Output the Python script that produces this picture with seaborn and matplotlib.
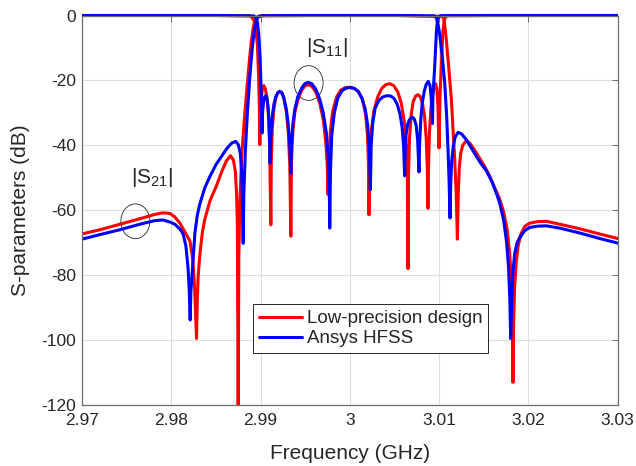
import matplotlib
matplotlib.use("Agg")
import matplotlib.pyplot as plt
import seaborn as sns
import pandas as pd
from matplotlib.patches import Ellipse
from matplotlib.transforms import Bbox, TransformedBbox

# ---------------- data (frequency GHz, dB) ----------------
red_s21 = [
    (2.970, -67.3), (2.97202, -66.0), (2.97426, -64.3), (2.97650, -62.6), (2.97813, -61.3),
    (2.97905, -60.8), (2.97986, -61.0), (2.98037, -62.0), (2.98098, -64.0), (2.98149, -66.5),
    (2.98210, -69.5), (2.98241, -75.0), (2.98262, -84.0), (2.98283, -99.5), (2.98292, -88.0),
    (2.98302, -80.0), (2.98323, -73.0), (2.98348, -67.0), (2.98374, -63.0), (2.98435, -57.0),
    (2.98506, -52.5), (2.98567, -48.0), (2.98618, -44.8), (2.98664, -43.2), (2.98696, -44.5),
    (2.98718, -48.0), (2.98732, -55.0), (2.98741, -65.0), (2.98750, -125.0), (2.98757, -75.0),
    (2.98768, -58.0), (2.98790, -43.0), (2.98819, -32.0), (2.98846, -23.0), (2.98875, -14.0),
    (2.98897, -8.0), (2.98920, -3.5), (2.98942, -1.2), (2.98970, -0.3), (2.99015, -0.05),
    (2.99535, 0.0), (3.00045, 0.0), (3.00554, 0.0), (3.01044, -0.3), (3.01058, -1.5),
    (3.01082, -7.4), (3.01109, -16.0), (3.01139, -26.0), (3.01176, -44.4), (3.01193, -55.0),
    (3.01206, -68.9), (3.01216, -55.0), (3.01227, -47.0), (3.01243, -42.5), (3.01266, -40.0),
    (3.01306, -38.5), (3.01344, -39.3), (3.01400, -41.5), (3.01456, -44.0), (3.01512, -46.5),
    (3.01568, -49.5), (3.01623, -53.0), (3.01679, -56.5), (3.01724, -60.5), (3.01764, -66.0),
    (3.01791, -73.0), (3.01812, -82.0), (3.01823, -95.0), (3.01829, -113.0), (3.01836, -95.0),
    (3.01847, -84.0), (3.01865, -76.0), (3.01887, -71.0), (3.01915, -67.5), (3.01960, -65.0),
    (3.02015, -64.0), (3.02105, -63.5), (3.02203, -63.4), (3.02352, -64.3), (3.02576, -65.7),
    (3.02799, -67.3), (3.0300, -68.7),
]

red_s11 = [
    (2.970, 0.0), (2.98516, 0.0), (2.98880, -0.1), (2.98902, -0.5), (2.98925, -1.5),
    (2.98947, -4.0), (2.98965, -9.0), (2.98978, -18.0), (2.98987, -28.0), (2.98992, -39.8),
    (2.98998, -30.0), (2.99009, -25.0), (2.99021, -22.8), (2.99037, -21.6), (2.99053, -22.5),
    (2.99071, -25.0), (2.99087, -30.0), (2.99102, -40.0), (2.99116, -64.5),
    (2.99121, -45.0), (2.99132, -35.0), (2.99149, -29.0), (2.99172, -25.3), (2.99194, -23.8),
    (2.99216, -23.3), (2.99239, -23.8), (2.99261, -25.5), (2.99289, -29.5), (2.99311, -36.0),
    (2.99328, -46.0), (2.99340, -68.0),
    (2.99347, -45.0), (2.99362, -36.0), (2.99384, -30.0), (2.99418, -26.0), (2.99463, -23.0),
    (2.99497, -21.7), (2.99533, -21.3), (2.99574, -21.8), (2.99619, -23.5), (2.99664, -27.0),
    (2.99703, -32.0), (2.99731, -39.0), (2.99748, -46.0), (2.99757, -55.2),
    (2.99764, -45.0), (2.99782, -36.0), (2.99809, -29.5), (2.99854, -25.0), (2.99899, -23.0),
    (2.99944, -22.3), (3.00000, -22.1), (3.00055, -22.5), (3.00100, -23.5), (3.00145, -26.0),
    (3.00178, -30.5), (3.00199, -37.0), (3.00209, -45.0), (3.00216, -61.4),
    (3.00224, -45.0), (3.00240, -36.0), (3.00269, -29.5), (3.00314, -25.0), (3.00359, -22.5),
    (3.00403, -21.3), (3.00448, -21.0), (3.00493, -21.6), (3.00538, -23.5), (3.00577, -27.0),
    (3.00610, -32.5), (3.00633, -40.0), (3.00645, -50.0), (3.00653, -78.0),
    (3.00658, -50.0), (3.00669, -38.0), (3.00689, -30.5), (3.00711, -26.5), (3.00739, -24.8),
    (3.00765, -24.4), (3.00790, -25.0), (3.00814, -27.0), (3.00838, -31.0), (3.00857, -38.0),
    (3.00869, -47.0), (3.00876, -59.4),
    (3.00882, -47.0), (3.00893, -36.0), (3.00910, -28.5), (3.00928, -24.0), (3.00947, -21.8),
    (3.00963, -21.0), (3.00977, -23.0), (3.00988, -28.0), (3.01000, -40.8),
    (3.01011, -25.0), (3.01026, -15.6), (3.01044, -5.0), (3.01058, -1.5), (3.01075, -0.3),
    (3.01097, -0.05), (3.01573, 0.0), (3.0300, 0.0),
]

blue_s21 = [
    (2.970, -68.9), (2.97201, -67.5), (2.97425, -66.0), (2.97648, -64.3), (2.97816, -63.2),
    (2.97906, -63.0), (2.97984, -63.6), (2.98040, -64.3), (2.98097, -65.8), (2.98133, -67.3),
    (2.98164, -71.0), (2.98189, -78.0), (2.98202, -85.0), (2.98212, -93.8),
    (2.98220, -85.0), (2.98238, -78.0), (2.98265, -67.0), (2.98292, -61.5), (2.98321, -58.0),
    (2.98377, -53.0), (2.98433, -49.6), (2.98500, -46.0), (2.98563, -43.4), (2.98622, -41.0),
    (2.98678, -39.3), (2.98723, -38.8), (2.98752, -39.8), (2.98774, -42.5), (2.98788, -48.0),
    (2.98798, -57.8), (2.98806, -70.2),
    (2.98813, -55.0), (2.98830, -42.0), (2.98853, -30.0), (2.98880, -19.0), (2.98908, -10.0),
    (2.98931, -4.5), (2.98953, -1.5), (2.98976, -0.4), (2.99015, -0.05), (2.99535, 0.0),
    (3.00045, 0.0), (3.00554, 0.0), (3.00952, -0.1), (3.00974, -1.0), (3.00991, -3.0),
    (3.01008, -5.8), (3.01036, -12.5), (3.01064, -20.7), (3.01086, -31.0), (3.01101, -41.4),
    (3.01112, -50.0), (3.01124, -62.4),
    (3.01131, -52.0), (3.01142, -45.0), (3.01159, -40.5), (3.01181, -37.5), (3.01213, -36.0),
    (3.01254, -36.5), (3.01299, -38.0), (3.01355, -40.5), (3.01411, -43.0), (3.01467, -45.5),
    (3.01530, -47.8), (3.01590, -51.0), (3.01646, -55.0), (3.01679, -57.7), (3.01724, -63.0),
    (3.01758, -70.0), (3.01780, -78.0), (3.01794, -88.0), (3.01803, -99.5),
    (3.01814, -88.0), (3.01829, -79.0), (3.01847, -73.5), (3.01875, -70.0), (3.01903, -68.5),
    (3.01960, -66.3), (3.02015, -65.3), (3.02105, -64.9), (3.02203, -64.8), (3.02352, -65.5),
    (3.02576, -67.0), (3.02799, -68.7), (3.0300, -70.1),
]

blue_s11 = [
    (2.970, 0.0), (2.98516, 0.0), (2.98925, -0.1), (2.98942, -0.5), (2.98965, -2.0),
    (2.98981, -6.0), (2.98995, -13.0), (2.99006, -22.0), (2.99018, -36.2),
    (2.99023, -30.0), (2.99034, -26.5), (2.99048, -25.0), (2.99059, -24.7), (2.99071, -25.3),
    (2.99084, -28.0), (2.99097, -33.0), (2.99108, -45.5),
    (2.99116, -37.0), (2.99132, -31.0), (2.99149, -27.5), (2.99172, -25.0), (2.99194, -23.8),
    (2.99216, -23.4), (2.99239, -23.8), (2.99261, -25.3), (2.99289, -28.8), (2.99311, -33.5),
    (2.99328, -40.0), (2.99340, -48.6),
    (2.99347, -40.0), (2.99362, -33.5), (2.99384, -29.0), (2.99418, -25.0), (2.99463, -22.3),
    (2.99497, -21.0), (2.99533, -20.6), (2.99574, -21.0), (2.99619, -22.7), (2.99664, -25.8),
    (2.99703, -30.0), (2.99737, -36.0), (2.99759, -44.0), (2.99771, -53.0), (2.99776, -65.5),
    (2.99784, -48.0), (2.99798, -37.0), (2.99827, -30.0), (2.99865, -25.5), (2.99910, -23.3),
    (2.99955, -22.4), (3.00000, -22.2), (3.00045, -22.4), (3.00090, -23.3), (3.00134, -25.3),
    (3.00173, -28.8), (3.00202, -34.0), (3.00220, -42.0), (3.00231, -53.7),
    (3.00240, -40.0), (3.00258, -33.0), (3.00285, -28.5), (3.00325, -26.2), (3.00370, -25.1),
    (3.00415, -24.7), (3.00459, -24.8), (3.00498, -25.6), (3.00534, -27.5), (3.00564, -30.5),
    (3.00587, -34.5), (3.00603, -40.0), (3.00615, -49.4),
    (3.00620, -42.0), (3.00632, -36.5), (3.00649, -33.5), (3.00671, -32.0), (3.00694, -31.5),
    (3.00709, -31.4), (3.00725, -32.0), (3.00745, -34.0), (3.00761, -38.5), (3.00776, -48.2),
    (3.00782, -40.0), (3.00796, -32.0), (3.00812, -27.0), (3.00835, -23.3), (3.00857, -21.2),
    (3.00880, -20.3), (3.00899, -21.5), (3.00912, -25.0), (3.00927, -33.3),
    (3.00932, -25.0), (3.00952, -15.6), (3.00971, -5.0), (3.00983, -1.5), (3.00996, -0.3),
    (3.01019, -0.05), (3.01573, 0.0), (3.0300, 0.0),
]

x_ticks = [2.97, 2.98, 2.99, 3.00, 3.01, 3.02, 3.03]
x_tick_labels = ["2.97", "2.98", "2.99", "3", "3.01", "3.02", "3.03"]
y_ticks = [-120, -100, -80, -60, -40, -20, 0]
y_tick_labels = ["-120", "-100", "-80", "-60", "-40", "-20", "0"]
legend_labels = ["Low-precision design", "Ansys HFSS"]

# ---------------- style ----------------
sns.set_theme(style="white")
plt.rcParams["font.family"] = ["Liberation Sans", "DejaVu Sans"]
plt.rcParams["mathtext.default"] = "regular"
plt.rcParams["axes.unicode_minus"] = False

fig = plt.figure(figsize=(6.36, 4.66), dpi=100)
ax = fig.add_axes([82 / 636, 1 - 405 / 466, 535.5 / 636, 389.5 / 466])

curves = [
    (red_s21, "#ff0000"),
    (red_s11, "#ff0000"),
    (blue_s21, "#0000ff"),
    (blue_s11, "#0000ff"),
]
for pairs, color in curves:
    df = pd.DataFrame(pairs, columns=["freq", "db"])
    sns.lineplot(data=df, x="freq", y="db", ax=ax, color=color, linewidth=2.2,
                 sort=False, estimator=None, legend=False)

clip = TransformedBbox(Bbox([[0, -0.001], [1, 1.012]]), ax.transAxes)
for ln in ax.lines:
    ln.set_clip_box(clip)
    ln.set_solid_joinstyle("round")

ax.set_xlim(2.97, 3.03)
ax.set_ylim(-120, 0)
ax.set_xticks(x_ticks)
ax.set_xticklabels(x_tick_labels)
ax.set_yticks(y_ticks)
ax.set_yticklabels(y_tick_labels)
ax.grid(True, color="#dedede", linewidth=0.8)
ax.set_axisbelow(True)
for s in ax.spines.values():
    s.set_color("#6e6e6e")
    s.set_linewidth(0.9)
ax.tick_params(direction="in", length=4, width=0.7, color="#6e6e6e",
               top=True, right=True, labelsize=12.5, labelcolor="#262626")
ax.tick_params(axis="x", pad=6)
ax.tick_params(axis="y", pad=4.5)
ax.set_xlabel("Frequency (GHz)", fontsize=15, color="#262626", labelpad=11)
ax.set_ylabel("S-parameters (dB)", fontsize=15, color="#262626", labelpad=8)

# annotations
ax.text(2.99507, -10.0, "|S$_{11}$|", fontsize=15, color="#262626", ha="left", va="center")
ax.text(2.97548, -50.0, "|S$_{21}$|", fontsize=15, color="#262626", ha="left", va="center")
ax.add_patch(Ellipse((2.99539, -20.8), 0.00325, 10.7, fill=False, edgecolor="#262626", linewidth=0.6))
ax.add_patch(Ellipse((2.97598, -63.4), 0.00325, 10.7, fill=False, edgecolor="#262626", linewidth=0.6))

handles = [ax.lines[1], ax.lines[3]]
leg = ax.legend(handles, legend_labels, loc="lower left", bbox_to_anchor=(0.320, 0.134),
                borderaxespad=0, fontsize=13.5, frameon=True, fancybox=False,
                edgecolor="#262626", framealpha=1, handlelength=2.3, handletextpad=0.25,
                borderpad=0.3, labelspacing=0.15)
leg.get_frame().set_linewidth(0.7)

fig.savefig("out.png", dpi=100)
